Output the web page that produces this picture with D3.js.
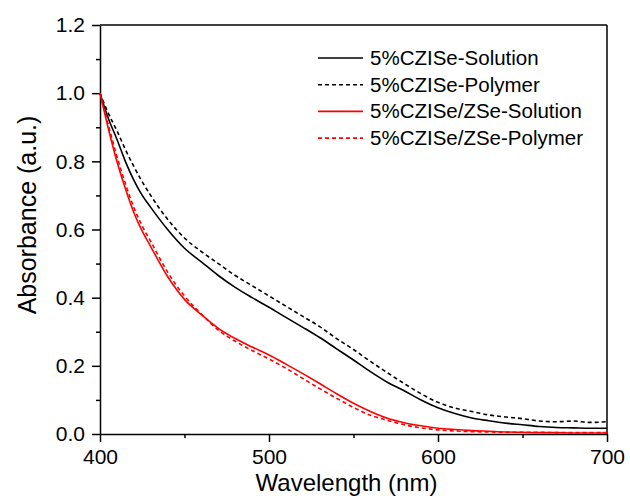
<!DOCTYPE html>
<html lang="en">
<head>
<meta charset="UTF-8">
<title>Absorbance spectra</title>
<script src="https://d3js.org/d3.v7.min.js"></script>
<style>
  body { margin: 0; background: #fff; }
  svg text { font-family: "Liberation Sans", Arial, sans-serif; fill: #000; }
  .axis path, .axis line { stroke: #000; stroke-width: 1.5; }
  .axis text { font-size: 21px; }
</style>
</head>
<body>
<div class="chart"></div>
<script>
// wavelengths (nm)
var wavelength = [400,405,410,415,420,425,430,440,450,460,470,480,490,500,510,520,530,540,550,560,570,580,590,600,610,620,630,640,650,660,670,680,690,700];

// absorbance series
var czise_solution = [1.0,0.925,0.865,0.80,0.745,0.70,0.665,0.60,0.545,0.505,0.465,0.43,0.40,0.372,0.342,0.313,0.283,0.25,0.217,0.183,0.152,0.127,0.10,0.077,0.06,0.047,0.039,0.032,0.027,0.022,0.019,0.018,0.017,0.017];
var czise_polymer  = [1.0,0.94,0.89,0.835,0.785,0.74,0.70,0.63,0.575,0.535,0.50,0.465,0.435,0.405,0.375,0.345,0.315,0.28,0.248,0.213,0.18,0.148,0.118,0.093,0.076,0.066,0.056,0.05,0.045,0.038,0.036,0.038,0.034,0.036];
var zse_solution   = [1.0,0.895,0.80,0.72,0.65,0.595,0.55,0.462,0.395,0.35,0.31,0.28,0.255,0.232,0.205,0.177,0.148,0.118,0.09,0.066,0.046,0.033,0.024,0.017,0.013,0.01,0.008,0.006,0.005,0.004,0.004,0.003,0.003,0.003];
var zse_polymer    = [1.0,0.905,0.815,0.735,0.665,0.61,0.565,0.475,0.405,0.352,0.305,0.272,0.245,0.22,0.193,0.163,0.133,0.105,0.078,0.055,0.04,0.027,0.018,0.012,0.009,0.007,0.006,0.005,0.005,0.005,0.004,0.004,0.004,0.004];

var seriesNames = ["5%CZISe-Solution","5%CZISe-Polymer","5%CZISe/ZSe-Solution","5%CZISe/ZSe-Polymer"];
var xTicks = [400,500,600,700];
var yTicks = [0.0,0.2,0.4,0.6,0.8,1.0,1.2];

var series = [
  {name: seriesNames[0], values: czise_solution, color: "#000", dash: null},
  {name: seriesNames[1], values: czise_polymer,  color: "#000", dash: "4,3"},
  {name: seriesNames[2], values: zse_solution,   color: "#ff0000", dash: null},
  {name: seriesNames[3], values: zse_polymer,    color: "#ff0000", dash: "4,3"}
];

var margin = {top: 25, right: 23, bottom: 70, left: 100},
    width = 630 - margin.left - margin.right,
    height = 504 - margin.top - margin.bottom;

var svg = d3.select(".chart").append("svg")
    .attr("width", 630)
    .attr("height", 504)
  .append("g")
    .attr("transform", "translate(" + margin.left + "," + margin.top + ")");

var x = d3.scaleLinear().domain([400, 700]).range([0, width]);
var y = d3.scaleLinear().domain([0, 1.2]).range([height, 0]);

// minor ticks
svg.append("g")
    .attr("class", "axis")
    .attr("transform", "translate(0," + height + ")")
    .call(d3.axisBottom(x).tickValues([450,550,650]).tickSize(4).tickFormat(""))
    .select(".domain").remove();
svg.append("g")
    .attr("class", "axis")
    .call(d3.axisLeft(y).tickValues([0.1,0.3,0.5,0.7,0.9,1.1]).tickSize(4).tickFormat(""))
    .select(".domain").remove();

// major axes
svg.append("g")
    .attr("class", "axis")
    .attr("transform", "translate(0," + height + ")")
    .call(d3.axisBottom(x).tickValues(xTicks).tickSize(8).tickSizeOuter(0).tickPadding(7).tickFormat(d3.format("d")));
svg.append("g")
    .attr("class", "axis")
    .call(d3.axisLeft(y).tickValues(yTicks).tickSize(8).tickSizeOuter(0).tickPadding(7).tickFormat(d3.format(".1f")));

// frame top/right
svg.append("line").attr("x1", 0).attr("x2", width).attr("y1", 0).attr("y2", 0)
    .style("stroke", "#000").style("stroke-width", 1.5);
svg.append("line").attr("x1", width).attr("x2", width).attr("y1", 0).attr("y2", height)
    .style("stroke", "#000").style("stroke-width", 1.5);

// lines
var line = d3.line()
    .x(function(d, i) { return x(wavelength[i]); })
    .y(function(d) { return y(d); })
    .curve(d3.curveMonotoneX);

series.forEach(function(s) {
  svg.append("path")
      .datum(s.values)
      .attr("fill", "none")
      .attr("stroke", s.color)
      .attr("stroke-width", 1.6)
      .attr("stroke-dasharray", s.dash)
      .attr("d", line);
});

// axis labels
svg.append("text")
    .attr("transform", "translate(" + (width / 2 - 7) + "," + (height + 57) + ")")
    .style("text-anchor", "middle")
    .style("font-size", "24px")
    .text("Wavelength (nm)");

svg.append("text")
    .attr("transform", "rotate(-90)")
    .attr("x", -(215 - margin.top))
    .attr("y", -64)
    .style("text-anchor", "middle")
    .style("font-size", "25px")
    .text("Absorbance (a.u.)");

// legend
var L = svg.selectAll(".legend")
    .data(series)
  .enter().append("g")
    .attr("class", "legend")
    .attr("transform", function(d, i) { return "translate(218," + (33 + i * 26.7) + ")"; });

L.append("line")
    .attr("x1", 0).attr("x2", 45)
    .attr("stroke", function(d) { return d.color; })
    .attr("stroke-width", 1.6)
    .attr("stroke-dasharray", function(d) { return d.dash; });

L.append("text")
    .attr("x", 52)
    .attr("y", 7)
    .style("font-size", "20.5px")
    .text(function(d) { return d.name; });
</script>
</body>
</html>
